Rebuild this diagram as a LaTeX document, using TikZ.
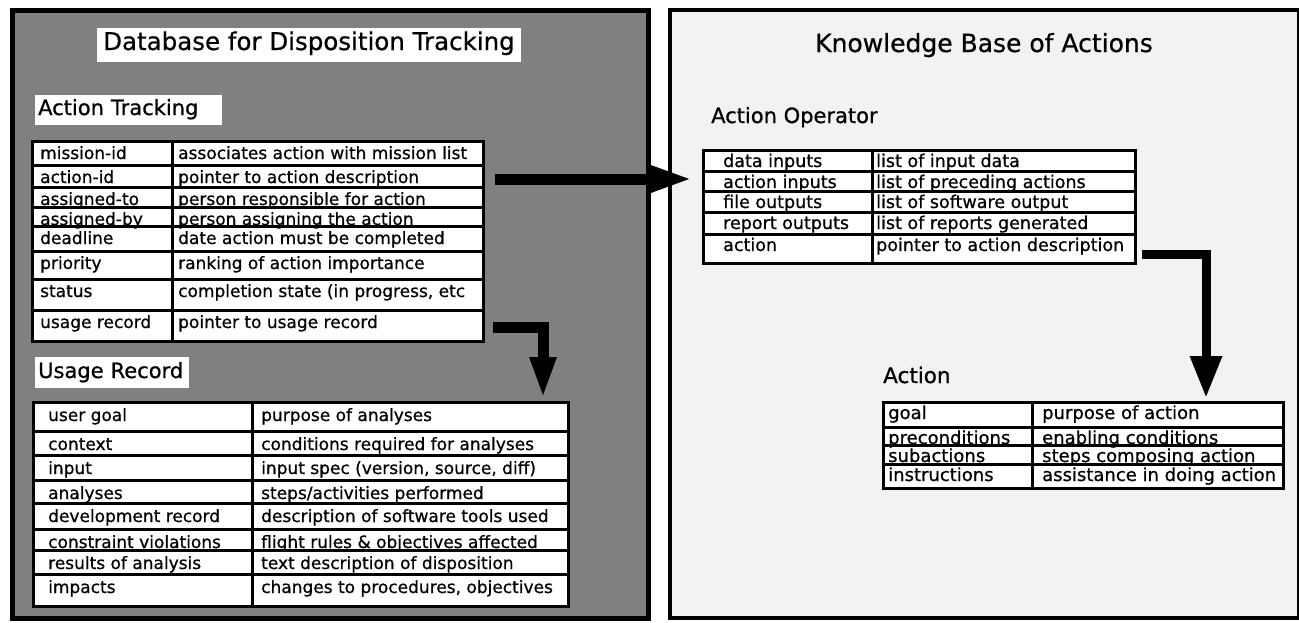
\documentclass[tikz,border=0pt]{standalone}
\usepackage{fontspec}
\setmainfont{DejaVu Sans}[FakeBold=0.7]
\usetikzlibrary{arrows.meta}
\pgfdeclarelayer{back}
\pgfdeclarelayer{cells}
\pgfdeclarelayer{front}
\pgfsetlayers{back,cells,main,front}
\newcommand\lind{8}
\newcommand\rind{6}
\newcommand\bsh{18}
\newcommand\cellfont{\fontsize{17}{20}\selectfont}
\tikzset{
  panelL/.style={draw=black, line width=4.5pt, fill=black!50, inner sep=0pt, anchor=north west},
  panelR/.style={draw=black, line width=3.5pt, fill=black!5, inner sep=0pt, anchor=north west},
  labelbox/.style={fill=white, inner ysep=0pt, inner xsep=3pt, anchor=base west, align=left},
  celltext/.style={inner sep=0pt, anchor=base west, font=\cellfont},
  cellline/.style={draw=black, line width=3pt},
  arrowA/.style={line width=11pt, -{Triangle[length=42pt,width=24pt]}},
  arrowB/.style={line width=9pt, -{Triangle[length=42pt,width=30pt]}},
}
\newcommand\tabrow[8]{%
  \begin{pgfonlayer}{cells}
    \fill[white] (#2,#5) rectangle (#4,#6);
  \end{pgfonlayer}
  \node[celltext] (#1-l) at ({#2+\lind},{#5+\bsh}) {#7};
  \node[celltext] (#1-r) at ({#3+\rind},{#5+\bsh}) {#8};
  \coordinate (#1-e) at (#4,{(#5+#6)/2});
  \begin{pgfonlayer}{front}
    \draw[cellline] (#2,#5) rectangle (#3,#6);
    \draw[cellline] (#3,#5) rectangle (#4,#6);
  \end{pgfonlayer}
}
\begin{document}
\begin{tikzpicture}[x=1pt,y=-1pt]
\useasboundingbox (0,0) rectangle (1299,622);
\begin{pgfonlayer}{back}
  \node[panelL, minimum width=636pt, minimum height=608pt] (leftpanel) at (10,8) {};
  \node[panelR, minimum width=629pt, minimum height=608pt] (rightpanel) at (668,8) {};
\end{pgfonlayer}

% ---------- left panel labels
\node[labelbox, inner xsep=6pt, text height=22pt, text depth=12pt,
      font=\fontsize{24.5}{28}\selectfont] (dbtitle) at (97,50) {Database for Disposition Tracking};
\node[labelbox, text height=20pt, text depth=10pt, text width=181pt,
      font=\fontsize{21}{24}\selectfont] (atlabel) at (35,115) {Action Tracking};
\node[labelbox, text height=21pt, text depth=10pt, text width=148pt,
      font=\fontsize{21}{24}\selectfont] (urlabel) at (35,378) {Usage Record};

% ---------- Action Tracking table
\renewcommand\lind{8}\renewcommand\rind{6}\renewcommand\bsh{18}
\tabrow{mt1}{32}{172}{483}{141}{165}{mission-id}{associates action with mission list}
\tabrow{mt2}{32}{172}{483}{165}{187}{action-id}{pointer to action description}
\tabrow{mt3}{32}{172}{483}{187}{207}{assigned-to}{person responsible for action}
\tabrow{mt4}{32}{172}{483}{207}{226}{assigned-by}{person assigning the action}
\tabrow{mt5}{32}{172}{483}{226}{251}{deadline}{date action must be completed}
\tabrow{mt6}{32}{172}{483}{251}{279}{priority}{ranking of action importance}
\tabrow{mt7}{32}{172}{483}{279}{310}{status}{completion state (in progress, etc}
\tabrow{mt8}{32}{172}{483}{310}{341}{usage record}{pointer to usage record}

% ---------- Usage Record table
\renewcommand\lind{15}\renewcommand\rind{9}\renewcommand\bsh{19}
\tabrow{ut1}{33}{252}{568}{402}{431}{user goal}{purpose of analyses}
\tabrow{ut2}{33}{252}{568}{431}{455}{context}{conditions required for analyses}
\tabrow{ut3}{33}{252}{568}{455}{480}{input}{input spec (version, source, diff)}
\tabrow{ut4}{33}{252}{568}{480}{503}{analyses}{steps/activities performed}
\tabrow{ut5}{33}{252}{568}{503}{529}{development record}{description of software tools used}
\tabrow{ut6}{33}{252}{568}{529}{550}{constraint violations}{flight rules \& objectives affected}
\tabrow{ut7}{33}{252}{568}{550}{574}{results of analysis}{text description of disposition}
\tabrow{ut8}{33}{252}{568}{574}{606}{impacts}{changes to procedures, objectives}

% ---------- right panel labels
\node[anchor=base, inner sep=0pt, font=\fontsize{25}{29}\selectfont] (kbtitle) at (984,52) {Knowledge Base of Actions};
\node[anchor=base west, inner sep=0pt, font=\fontsize{21}{24}\selectfont] (aolabel) at (711,123) {Action Operator};
\node[anchor=base west, inner sep=0pt, font=\fontsize{21.5}{24}\selectfont] (aclabel) at (883,383) {Action};

% ---------- Action Operator table
\renewcommand\cellfont{\fontsize{17.5}{20}\selectfont}
\renewcommand\lind{20}\renewcommand\rind{4}\renewcommand\bsh{17}
\tabrow{ao1}{703}{872}{1135}{150}{171}{data inputs}{list of input data}
\tabrow{ao2}{703}{872}{1135}{171}{191}{action inputs}{list of preceding actions}
\tabrow{ao3}{703}{872}{1135}{191}{212}{file outputs}{list of software output}
\tabrow{ao4}{703}{872}{1135}{212}{234}{report outputs}{list of reports generated}
\tabrow{ao5}{703}{872}{1135}{234}{263}{action}{pointer to action description}

% ---------- Action table
\renewcommand\cellfont{\fontsize{18}{20}\selectfont}
\renewcommand\lind{5}\renewcommand\rind{10}\renewcommand\bsh{17}
\tabrow{at1}{883}{1032}{1283}{402}{427}{goal}{purpose of action}
\tabrow{at2}{883}{1032}{1283}{427}{445}{preconditions}{enabling conditions}
\tabrow{at3}{883}{1032}{1283}{445}{464}{subactions}{steps composing action}
\tabrow{at4}{883}{1032}{1283}{464}{488}{instructions}{assistance in doing action}

% ---------- arrows
\coordinate (a1t) at (693,179);
\coordinate (a2t) at (543,399);
\coordinate (a3t) at (1206,398);
\begin{pgfonlayer}{front}
  \draw[arrowA] ([xshift=12pt,yshift=-3pt]mt2-e) -- (a1t);
  \draw[arrowA] ([xshift=10pt,yshift=-2pt]mt8-e) -| (a2t);
  \draw[arrowB] ([xshift=7pt,yshift=-6pt]ao5-e) -| (a3t);
\end{pgfonlayer}
\end{tikzpicture}
\end{document}
